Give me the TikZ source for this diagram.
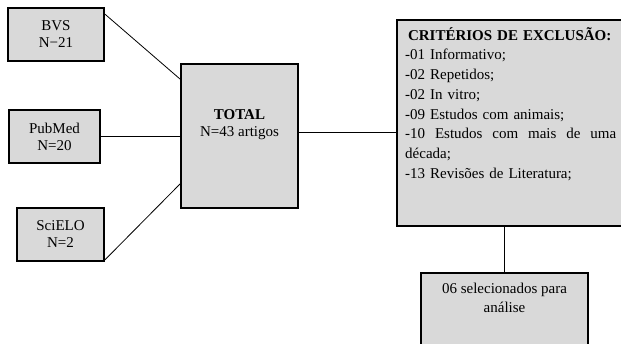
\documentclass[tikz,border=0pt]{standalone}
\usepackage{fontspec}
\setmainfont{Liberation Serif}
\definecolor{boxgray}{HTML}{D9D9D9}
\tikzset{
  srcbox/.style={draw, line width=1.8pt, fill=boxgray, inner sep=0pt, align=center,
    font=\fontsize{15}{17}\selectfont},
  link/.style={line width=0.8pt},
  txt/.style={inner sep=0pt, font=\fontsize{15}{19.7}\selectfont}
}

\begin{document}
\begin{tikzpicture}[x=1pt,y=-1pt]
   \useasboundingbox (0,0) rectangle (621,343);
   \clip (0,0) rectangle (621,343);
   % Sources
   \node[srcbox, minimum width=96pt, minimum height=53pt] (bvs) at (56,34.5) {BVS\\N−21};
   \node[srcbox, minimum width=91pt, minimum height=53pt] (pubmed) at (54.5,136.5) {PubMed\\N=20};
   \node[srcbox, minimum width=87pt, minimum height=53pt] (scielo) at (60.5,234.5) {SciELO\\N=2};
   % Total
   \node[srcbox, minimum width=117pt, minimum height=144pt] (total) at (239.5,136) {};
   \node[txt, align=center, anchor=north, font=\fontsize{15}{17}\selectfont] (totaltxt) at (239.5,105)
      {\rule{0pt}{14pt}\textbf{TOTAL}\\N=43 artigos};
   % Criteria
   \node[srcbox, minimum width=230pt, minimum height=206pt] (crit) at (512,123) {};
   \node[txt, anchor=north west, text width=215pt, align=left] (crittxt) at (405,26)
      {\rule{0pt}{14pt}\makebox[209pt]{\textbf{CRITÉRIOS DE EXCLUSÃO:}}\\
       -01 Informativo;\\
       -02 Repetidos;\\
       -02 In vitro;\\
       -09 Estudos com animais;\\
       \makebox[211pt][l]{-10 \hfill Estudos \hfill com \hfill mais \hfill de \hfill uma}\\
       década;\\
       -13 Revisões de Literatura;};
   % Selected
   \node[srcbox, minimum width=167pt, minimum height=77pt] (sel) at (504.5,311.5) {};
   \node[txt, align=center, anchor=north, font=\fontsize{15}{19}\selectfont] (seltxt) at (504.5,279.5)
      {\rule{0pt}{14pt}06 selecionados para\\análise};
   % Links
   \draw[link] ([yshift=-7pt]bvs.north east) -- ([yshift=-16pt]total.north west);
   \draw[link] (pubmed.east) -- (pubmed.east -| total.west);
   \draw[link] ([yshift=2pt]scielo.south east) -- ([yshift=25pt]total.south west);
   \coordinate (tout) at ([yshift=4pt]total.east);
   \draw[link] (tout) -- (tout -| crit.west);
   \draw[link] (sel.north |- crit.south) -- (sel.north);
\end{tikzpicture}
\end{document}
